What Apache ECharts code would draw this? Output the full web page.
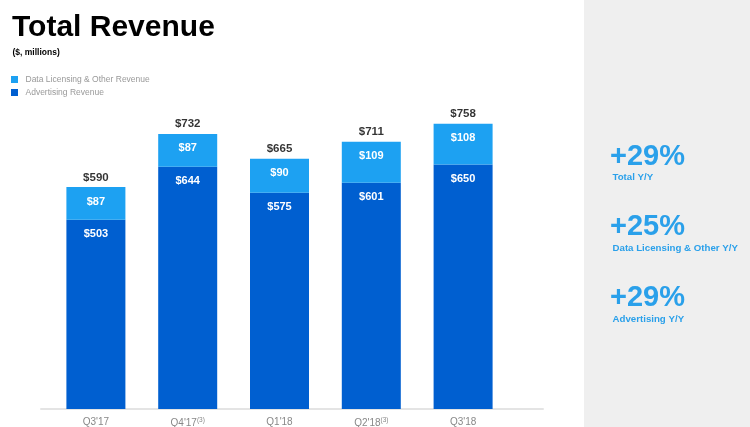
<!DOCTYPE html>
<html>
<head>
<meta charset="utf-8">
<script src="https://cdn.jsdelivr.net/npm/echarts@6/dist/echarts.min.js"></script>
<style>
html,body{margin:0;padding:0;background:#fff;}
#c{width:750px;height:427px;}
</style>
</head>
<body>
<div id="c"></div>
<script>
const categories = ["Q3'17", "Q4'17", "Q1'18", "Q2'18", "Q3'18"];
const footnotes = ["", "(3)", "", "(3)", ""];
const dataLicensing = [87, 87, 90, 109, 108];
const advertising = [503, 644, 575, 601, 650];
const totals = [590, 732, 665, 711, 758];
const growthValues = ["+29%", "+25%", "+29%"];
const growthLabels = ["Total Y/Y", "Data Licensing & Other Y/Y", "Advertising Y/Y"];

const FONT = "'Liberation Sans', Arial, Helvetica, sans-serif";
const LIGHT = '#1DA1F2';
const DARK = '#005FD0';
const PANEL_TEXT = '#2AA0EA';

const chart = echarts.init(document.getElementById('c'), null, {renderer: 'canvas'});

const growthCenters = [156.5, 226, 297];
const labelCenters = [177, 248.5, 319];
const graphics = [{
  type: 'rect', left: 584, top: 0, z: -10,
  shape: {width: 166, height: 427},
  style: {fill: '#EFEFEF'}
}];
growthValues.forEach((g, i) => {
  graphics.push({
    type: 'text', left: 610, top: growthCenters[i] - 14,
    style: {text: g, fill: PANEL_TEXT, font: 'bold 29px ' + FONT}
  });
  graphics.push({
    type: 'text', left: 612.5, top: labelCenters[i] - 5,
    style: {text: growthLabels[i], fill: PANEL_TEXT, font: 'bold 9.7px ' + FONT}
  });
});

const option = {
  animation: false,
  textStyle: {fontFamily: FONT},
  title: [
    {text: 'Total Revenue', left: 12, top: 13, padding: 0,
     textStyle: {fontSize: 30, fontWeight: 'bold', color: '#000', fontFamily: FONT}},
    {text: '($, millions)', left: 12.5, top: 48.5, padding: 0,
     textStyle: {fontSize: 8.5, fontWeight: 'bold', color: '#000', fontFamily: FONT}}
  ],
  legend: {
    orient: 'vertical', left: 11, top: 75, padding: 0,
    itemWidth: 7, itemHeight: 7, itemGap: 4, icon: 'rect',
    data: ['Data Licensing & Other Revenue', 'Advertising Revenue'],
    textStyle: {fontSize: 8.5, color: '#999', fontFamily: FONT, padding: [0, 0, 0, 2.5]}
  },
  grid: [
    {left: 50, right: 241, top: 108, bottom: 18, containLabel: false, outerBoundsMode: 'none'},
    {left: 41, right: 207, top: 108, bottom: 18, containLabel: false, outerBoundsMode: 'none'}
  ],
  xAxis: [
    {
      type: 'category', gridIndex: 0, data: categories,
      axisLine: {show: false}, axisTick: {show: false},
      axisLabel: {
        margin: 8, color: '#888', fontSize: 10, fontFamily: FONT,
        formatter: (v, idx) => footnotes[idx] ? v + '{sup|' + footnotes[idx] + '}' : v,
        rich: {sup: {fontSize: 6.5, color: '#888', verticalAlign: 'top', padding: [0, 0, 6, 0]}}
      }
    },
    {
      type: 'category', gridIndex: 1, data: [''],
      axisLine: {show: true, lineStyle: {color: '#E4E4E4', width: 2}},
      axisTick: {show: false}, axisLabel: {show: false}
    }
  ],
  yAxis: [
    {type: 'value', gridIndex: 0, min: 0, max: 800, show: false},
    {type: 'value', gridIndex: 1, min: 0, max: 800, show: false}
  ],
  series: [
    {
      name: 'Advertising Revenue', type: 'bar', stack: 'rev', barWidth: 59,
      data: advertising, itemStyle: {color: DARK},
      label: {show: true, position: 'insideTop', distance: 9, color: '#fff',
        fontSize: 11, fontWeight: 'bold', fontFamily: FONT, formatter: p => '$' + p.value}
    },
    {
      name: 'Data Licensing & Other Revenue', type: 'bar', stack: 'rev', barWidth: 59,
      data: dataLicensing, itemStyle: {color: LIGHT},
      label: {show: true, position: 'insideTop', distance: 9, color: '#fff',
        fontSize: 11, fontWeight: 'bold', fontFamily: FONT, formatter: p => '$' + p.value}
    },
    {
      name: 'Total', type: 'scatter', data: totals, symbolSize: 1,
      itemStyle: {color: 'rgba(0,0,0,0)'}, z: 5,
      label: {show: true, position: 'top', distance: 3, color: '#000',
        fontSize: 11.5, fontWeight: 700, fontFamily: FONT, formatter: p => '$' + p.value}
    }
  ],
  graphic: graphics
};
chart.setOption(option);
</script>
</body>
</html>
